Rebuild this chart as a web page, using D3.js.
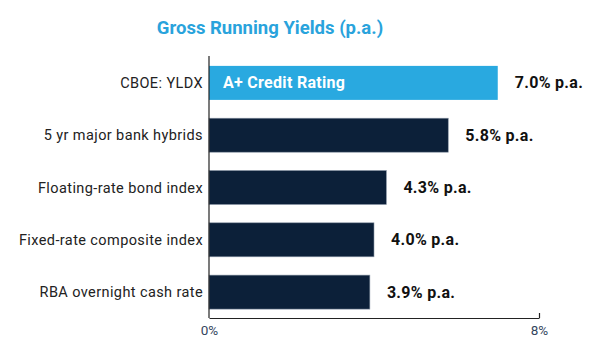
<!DOCTYPE html>
<html>
<head>
<meta charset="utf-8">
<script src="https://cdn.jsdelivr.net/npm/d3@7"></script>
<style>
  body { margin: 0; background: #fff; }
  svg text { font-family: Roboto, "Noto Sans", sans-serif; }
</style>
</head>
<body>
<div class="chart"></div>
<script>
// data
const categories = ['CBOE: YLDX', '5 yr major bank hybrids', 'Floating-rate bond index',
                    'Fixed-rate composite index', 'RBA overnight cash rate'];
const yields = [7.0, 5.8, 4.3, 4.0, 3.9];
const value_labels = ['7.0% p.a.', '5.8% p.a.', '4.3% p.a.', '4.0% p.a.', '3.9% p.a.'];
const x_ticks = [0, 8];
const highlight_text = 'A+ Credit Rating';

const svg_width = 600;
const svg_height = 353;
const margin = {top: 57, right: 61, bottom: 35, left: 209};
const chart_width = svg_width - margin.left - margin.right;
const chart_height = svg_height - margin.top - margin.bottom;

const data = categories.map((c, i) => ({name: c, value: yields[i], label: value_labels[i]}));

const svg = d3.select('.chart').append('svg')
    .attr('width', svg_width)
    .attr('height', svg_height);

// title
svg.append('text')
    .attr('x', 270)
    .attr('y', 34)
    .attr('text-anchor', 'middle')
    .style('font-size', '18.5px')
    .style('font-weight', 'bold')
    .style('fill', '#29a3dc')
    .text('Gross Running Yields (p.a.)');

const g = svg.append('g').attr('transform', `translate(${margin.left},${margin.top})`);

const x_scale = d3.scaleLinear([0, 8], [0, chart_width]);
const y_scale = d3.scaleBand()
    .domain(categories)
    .range([0, chart_height])
    .paddingInner(0.35)
    .paddingOuter(0.17);

// bars
g.selectAll('.bar').data(data).join('rect')
    .attr('class', 'bar')
    .attr('x', 0)
    .attr('y', d => y_scale(d.name))
    .attr('width', d => x_scale(d.value))
    .attr('height', y_scale.bandwidth())
    .style('fill', (d, i) => i === 0 ? '#29a9e0' : '#0c2039')
    .style('stroke', (d, i) => i === 0 ? 'none' : '#8a96a6')
    .style('stroke-width', 0.6);

// label inside the highlighted bar
g.append('text')
    .attr('x', 14)
    .attr('y', y_scale(categories[0]) + y_scale.bandwidth() / 2)
    .attr('dy', '0.35em')
    .style('font-size', '16px')
    .style('font-weight', 'bold')
    .style('letter-spacing', '0.3px')
    .style('fill', '#fff')
    .text(highlight_text);

// value labels
g.selectAll('.val').data(data).join('text')
    .attr('class', 'val')
    .attr('x', d => x_scale(d.value) + 17)
    .attr('y', d => y_scale(d.name) + y_scale.bandwidth() / 2)
    .attr('dy', '0.35em')
    .style('font-size', '16px')
    .style('font-weight', 'bold')
    .style('letter-spacing', '0.3px')
    .style('fill', '#111')
    .text(d => d.label);

// category labels
g.selectAll('.cat').data(data).join('text')
    .attr('class', 'cat')
    .attr('x', -6)
    .attr('y', d => y_scale(d.name) + y_scale.bandwidth() / 2)
    .attr('dy', '0.35em')
    .attr('text-anchor', 'end')
    .style('font-size', '14.5px')
    .style('letter-spacing', '0.4px')
    .style('fill', '#222')
    .text(d => d.name);

// axes
g.append('line')
    .attr('x1', 0).attr('x2', 0)
    .attr('y1', -1).attr('y2', chart_height)
    .style('stroke', '#222').style('stroke-width', 1.2);

const x_axis = d3.axisBottom(x_scale)
    .tickValues(x_ticks)
    .tickFormat(d => d + '%')
    .tickSizeInner(-5)
    .tickSizeOuter(0);

const x_axis_draw = g.append('g')
    .attr('class', 'x axis')
    .attr('transform', `translate(0,${chart_height})`)
    .call(x_axis);

x_axis_draw.select('.domain').style('stroke', '#222').style('stroke-width', 1.2);
x_axis_draw.selectAll('.tick line').style('stroke', '#222').style('stroke-width', 1.2);
x_axis_draw.selectAll('.tick text')
    .attr('y', 7)
    .style('font-size', '13.5px')
    .style('font-family', 'Roboto, sans-serif')
    .style('fill', '#34465e');
x_axis_draw.selectAll('.tick').filter(d => d === 0).select('line').remove();
</script>
</body>
</html>
